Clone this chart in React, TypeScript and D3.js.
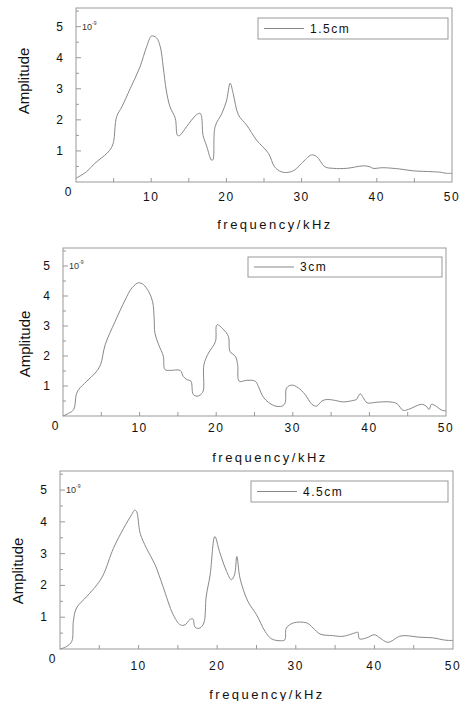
import * as d3 from "d3";

// frequency (kHz) / amplitude (x1e-9)
const freq15 = [0, 1.4, 2.5, 4.1, 4.7, 5.0, 5.4, 6.1, 7.2, 8.5, 9.4, 10.05, 10.7, 11.2, 11.6, 12.0, 12.5, 13.2, 13.5, 13.8, 14.7, 16.0, 16.5, 16.7, 16.9, 17.4, 18.0, 18.2, 18.5, 19.4, 20.0, 20.5, 20.9, 21.6, 22.7, 24.0, 25.6, 26.4, 27.3, 28.2, 29.1, 30.0, 31.3, 32.0, 33.1, 34.2, 36.0, 38.2, 39.1, 39.5, 40.8, 43.0, 44.8, 47.5, 48.6, 49.2, 50];
const amp15 = [0.12, 0.33, 0.6, 0.92, 1.1, 1.3, 2.1, 2.42, 3.0, 3.7, 4.36, 4.7, 4.64, 4.36, 3.7, 2.96, 2.42, 2.05, 1.5, 1.5, 1.78, 2.16, 2.21, 2.1, 1.5, 1.14, 0.71, 0.71, 1.78, 2.21, 2.6, 3.18, 2.85, 2.16, 1.83, 1.35, 0.92, 0.49, 0.33, 0.31, 0.39, 0.6, 0.87, 0.82, 0.49, 0.44, 0.44, 0.52, 0.49, 0.44, 0.46, 0.42, 0.36, 0.33, 0.31, 0.28, 0.28];

const freq3 = [0, 0.74, 1.4, 1.74, 2.04, 3.1, 4.2, 4.9, 5.5, 6.8, 8.1, 9.0, 9.85, 10.5, 11.2, 11.7, 11.9, 12.0, 12.5, 13.1, 13.3, 14.0, 15.3, 15.7, 16.2, 16.7, 17.0, 17.5, 17.9, 18.3, 18.4, 19.0, 19.9, 20.1, 21.0, 21.6, 21.8, 22.5, 22.8, 23.0, 24.0, 25.1, 25.5, 26.2, 27.5, 28.6, 29.0, 29.2, 29.9, 30.7, 31.6, 32.5, 33.1, 33.8, 34.4, 35.3, 36.6, 37.9, 38.3, 38.8, 39.2, 39.7, 41.0, 42.7, 43.6, 44.4, 45.1, 46.8, 47.4, 47.8, 48.1, 48.8, 49.4, 50];
const amp3 = [0, 0.09, 0.22, 0.72, 0.88, 1.16, 1.43, 1.71, 2.37, 3.15, 3.86, 4.27, 4.44, 4.38, 4.14, 3.81, 3.26, 2.76, 2.37, 1.99, 1.55, 1.52, 1.52, 1.32, 1.21, 1.16, 0.72, 0.66, 0.7, 0.83, 1.71, 2.1, 2.48, 3.04, 2.87, 2.65, 2.15, 1.99, 1.71, 1.16, 1.19, 1.16, 0.99, 0.61, 0.35, 0.33, 0.44, 0.94, 1.03, 0.94, 0.72, 0.39, 0.33, 0.5, 0.55, 0.53, 0.47, 0.52, 0.55, 0.74, 0.61, 0.44, 0.46, 0.47, 0.41, 0.19, 0.22, 0.39, 0.33, 0.22, 0.39, 0.31, 0.2, 0.17];

const freq45 = [0, 0.85, 1.5, 1.7, 2.1, 3.4, 4.7, 5.5, 6.8, 8.1, 9.1, 9.5, 9.75, 10.2, 11.0, 12.1, 13.1, 14.4, 15.3, 15.9, 16.5, 16.9, 17.2, 17.8, 18.3, 18.6, 19.1, 19.7, 20.3, 21.2, 21.8, 22.2, 22.5, 22.9, 23.9, 25.0, 26.1, 26.9, 28.0, 28.6, 28.8, 29.7, 31.4, 32.2, 33.1, 34.7, 36.0, 37.7, 37.9, 38.1, 39.0, 40.0, 40.7, 41.7, 43.2, 43.9, 45.8, 47.5, 48.7, 49.4, 50];
const amp45 = [0, 0.08, 0.24, 0.87, 1.29, 1.65, 2.02, 2.33, 3.17, 3.8, 4.22, 4.37, 4.32, 3.64, 3.17, 2.65, 1.97, 1.08, 0.76, 0.76, 0.92, 0.95, 0.68, 0.66, 0.82, 1.65, 2.33, 3.54, 3.06, 2.44, 2.18, 2.33, 2.91, 2.23, 1.5, 1.08, 0.55, 0.32, 0.26, 0.29, 0.66, 0.82, 0.82, 0.66, 0.47, 0.42, 0.4, 0.52, 0.53, 0.32, 0.35, 0.45, 0.35, 0.21, 0.4, 0.42, 0.37, 0.35, 0.29, 0.27, 0.27];

const xLabels = [10, 20, 30, 40, 50];
const yLabels = [1, 2, 3, 4, 5];

const panels = [
  { name: "1.5cm", f: freq15, a: amp15, l: 76, r: 452, t: 8, b: 182, xlab: 19, title: 229, tx: 275, ax: 24, ay: 81, leg: [258, 18, 448, 39] },
  { name: "3cm", f: freq3, a: amp3, l: 63, r: 446, t: 248, b: 416, xlab: 16, title: 462, tx: 270, ax: 25, ay: 344, leg: [248, 257, 442, 277] },
  { name: "4.5cm", f: freq45, a: amp45, l: 60, r: 453, t: 471, b: 649, xlab: 21, title: 699, tx: 267, ax: 18, ay: 571, leg: [251, 481, 448, 502] },
];

const font = "Arial, 'Liberation Sans', sans-serif";

function Panel({ p }: { p: any }) {
  const x = d3.scaleLinear().domain([0, 50]).range([p.l, p.r]);
  const y = d3.scaleLinear().domain([0, 5.6]).range([p.b, p.t]);
  const pts = p.f.map((f: number, i: number) => [f, p.a[i]]);
  const line = d3.line<number[]>().x((d) => x(d[0])).y((d) => y(d[1])).curve(d3.curveCatmullRom.alpha(0.5));
  const yTicks = d3.range(0.5, 5.51, 0.5);
  const xTicks = d3.range(5, 50, 5);
  const [lx0, ly0, lx1, ly1] = p.leg;
  const lm = (ly0 + ly1) / 2;
  return (
    <g>
      <rect x={p.l} y={p.t} width={p.r - p.l} height={p.b - p.t} fill="none" stroke="#999" strokeWidth={1} />
      {yTicks.map((v) => (
        <line key={v} x1={p.l} x2={p.l + (Number.isInteger(v) ? 5 : 3)} y1={y(v)} y2={y(v)} stroke="#999" />
      ))}
      {xTicks.map((v) => (
        <line key={v} x1={x(v)} x2={x(v)} y1={p.b} y2={p.b - 4} stroke="#999" />
      ))}
      {yLabels.map((v) => (
        <text key={v} x={p.l - 13} y={y(v) + 4} textAnchor="end" fontSize={12} fill="#111">{v}</text>
      ))}
      <text x={p.l - 8} y={p.b + 14} textAnchor="middle" fontSize={12} fill="#111">0</text>
      {xLabels.map((v) => (
        <text key={v} x={x(v)} y={p.b + p.xlab} textAnchor="middle" fontSize={12} letterSpacing={1.5} fill="#111">{v}</text>
      ))}
      <text x={p.l + 6} y={y(5) + 3} fontSize={9} fill="#333">10<tspan fontSize={5} dy={-5}>-9</tspan></text>
      <path d={line(pts) || ""} fill="none" stroke="#888" strokeWidth={1} />
      <rect x={lx0} y={ly0} width={lx1 - lx0} height={ly1 - ly0} fill="none" stroke="#999" />
      <line x1={lx0 + 6} x2={lx0 + 46} y1={lm} y2={lm} stroke="#888" />
      <text x={lx0 + 52} y={lm + 4} fontSize={12} letterSpacing={1.5} fill="#111">{p.name}</text>
      <text x={p.tx} y={p.title} textAnchor="middle" fontSize={13} letterSpacing={2.5} fill="#111">frequency/kHz</text>
      <text transform={`translate(${p.ax},${p.ay}) rotate(-90)`} textAnchor="middle" dy={5} fontSize={15} fill="#111">Amplitude</text>
    </g>
  );
}

export default function App() {
  return (
    <svg width={460} height={701} style={{ position: "absolute", left: 0, top: 0, fontFamily: font, background: "#fff" }}>
      {panels.map((p) => (
        <Panel key={p.name} p={p} />
      ))}
    </svg>
  );
}
